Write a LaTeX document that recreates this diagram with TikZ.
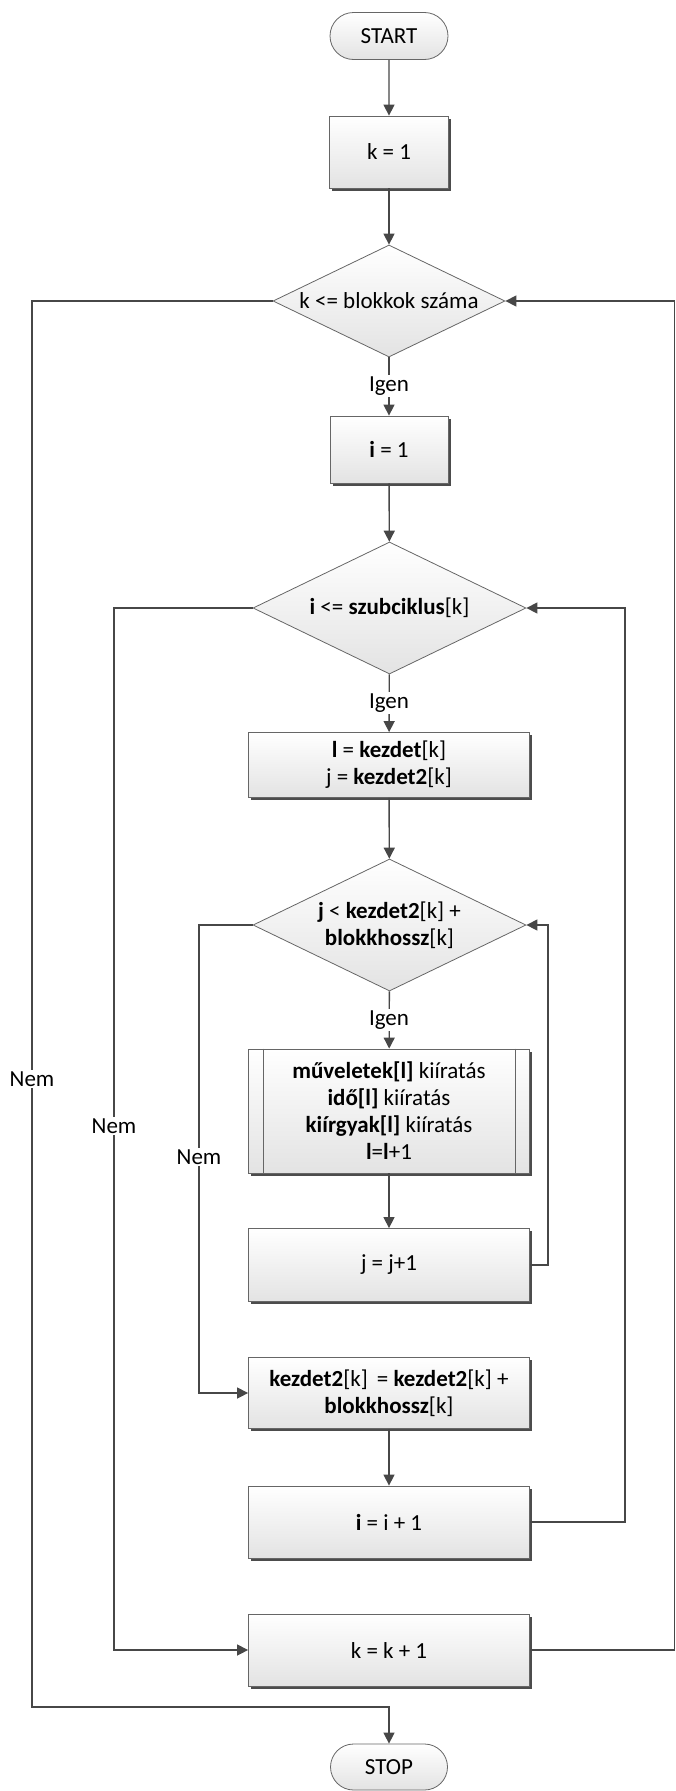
\documentclass[tikz,border=0pt]{standalone}
\usepackage{fontspec}
\setmainfont{Carlito}
\usetikzlibrary{shapes.geometric,shapes.misc,shadows,arrows.meta,calc}
\begin{document}
\begin{tikzpicture}[x=1pt,y=-1pt,
  every node/.style={font=\fontsize{23}{27}\selectfont, align=center},
  base/.style={draw=black!60, line width=0.8pt, top color=white, bottom color=black!11, inner sep=0pt},
  proc/.style={base, rectangle, drop shadow={shadow xshift=2.5pt, shadow yshift=-2.5pt, fill=black!70, opacity=1}},
  term/.style={base, rounded rectangle, minimum width=118pt, minimum height=47pt},
  dec/.style={base, diamond, shape aspect=2.07},
  flow/.style={draw=black!72, line width=1.4pt, -{Triangle[width=11pt,length=11pt]}},
  lbl/.style={fill=white, inner sep=1.5pt}
]
\useasboundingbox (0,0) rectangle (676,1791);

% nodes of the outer loop
\node[term] (start) at (389,36) {START};
\node[proc, minimum width=119pt, minimum height=72pt] (k1) at (389,152) {k = 1};
\node[dec, minimum width=232pt, minimum height=112pt] (d1) at (389,301) {k <= blokkok száma};
\node[proc, minimum width=118pt, minimum height=67pt] (i1) at (389,449.5) {\textbf{i} = 1};

% middle loop
\node[dec, minimum width=273pt, minimum height=132pt] (d2) at (389.5,608) {\textbf{i} <= \textbf{szubciklus}[k]};
\node[proc, minimum width=281pt, minimum height=65pt] (lk) at (389,765) {\textbf{l} = \textbf{kezdet}[k]\\ j = \textbf{kezdet2}[k]};

% inner loop
\node[dec, minimum width=273pt, minimum height=132pt] (d3) at (389.5,925) {\textbf{j} < \textbf{kezdet2}[k] +\\ \textbf{blokkhossz}[k]};
\node[proc, minimum width=281pt, minimum height=124pt] (sub) at (389,1111) {\textbf{műveletek[l]} kiíratás\\ \textbf{idő[l]} kiíratás\\ \textbf{kiírgyak[l]} kiíratás\\ \textbf{l}=\textbf{l}+1};
\draw[black!60, line width=0.8pt] ($(sub.north west)+(15,0)$) -- ($(sub.south west)+(15,0)$)
  ($(sub.north east)+(-15,0)$) -- ($(sub.south east)+(-15,0)$);
\node[proc, minimum width=281pt, minimum height=73pt] (jj) at (389,1265) {j = j+1};

\node[proc, minimum width=281pt, minimum height=71pt] (kz) at (389,1393) {\textbf{kezdet2}[k] \,= \textbf{kezdet2}[k] +\\ \textbf{blokkhossz}[k]};
\node[proc, minimum width=281pt, minimum height=72pt] (ii) at (389,1522) {\textbf{i} = i + 1};
\node[proc, minimum width=281pt, minimum height=72pt] (kk) at (389,1650) {k = k + 1};
\node[term, minimum width=117pt, minimum height=46pt] (stop) at (389,1767) {STOP};

% route corners
\coordinate (outL) at (32,1707);
\coordinate (outR) at (674.5,1650);
\coordinate (midL) at (114,1650);
\coordinate (midR) at (625,1522);
\coordinate (inL) at (199,1393);
\coordinate (inR) at (548,1265);

% straight flow
\draw[flow] (start) -- (k1);
\draw[flow] (k1) -- (d1);
\draw[flow] (d1) -- (i1);
\draw[flow] (i1) -- (d2);
\draw[flow] (d2) -- (lk);
\draw[flow] (lk) -- (d3);
\draw[flow] (d3) -- (sub);
\draw[flow] (sub) -- (jj);
\draw[flow] (kz) -- (ii);

% loops back
\draw[flow] (jj.east) -- (inR) |- (d3.east);
\draw[flow] (ii.east) -- (midR) |- (d2.east);
\draw[flow] (kk.east) -- (outR) |- (d1.east);

% exits
\draw[flow] (d3.west) -| (inL) -- (kz.west);
\draw[flow] (d2.west) -| (midL) -- (kk.west);
\draw[flow] (d1.west) -| (outL) -| (stop.north);

% branch labels
\node[lbl] (y1) at (389,386) {Igen};
\node[lbl] (y2) at (389,703) {Igen};
\node[lbl] (y3) at (389,1020) {Igen};
\node[lbl] (n1) at (32,1079) {Nem};
\node[lbl] (n2) at (114,1126) {Nem};
\node[lbl] (n3) at (199,1157) {Nem};
\end{tikzpicture}
\end{document}
